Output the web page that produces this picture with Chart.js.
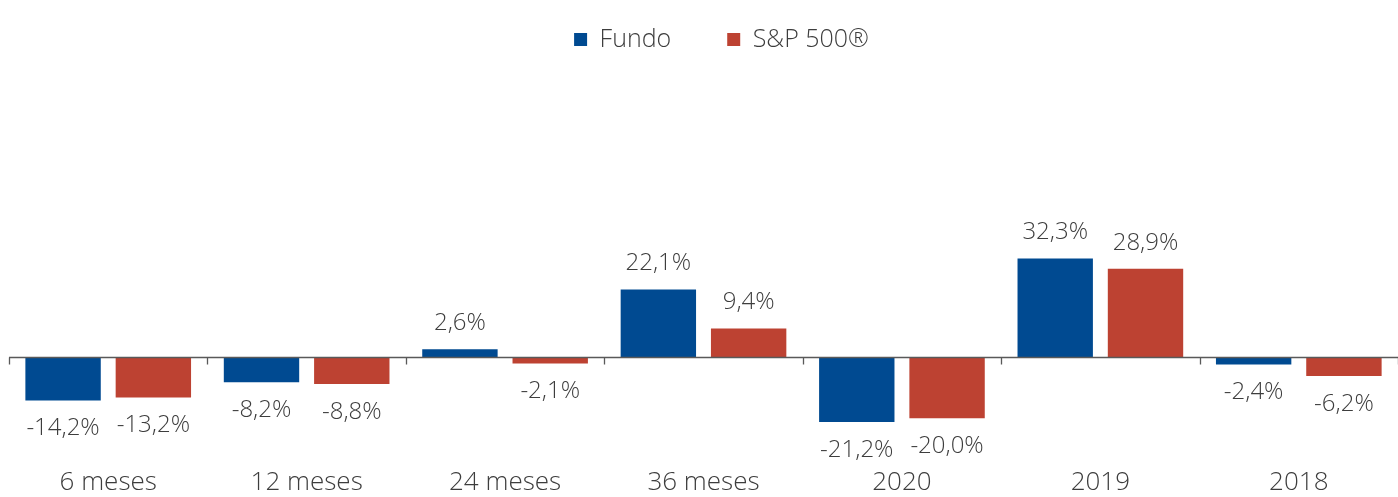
<!DOCTYPE html>
<html>
<head>
<meta charset="utf-8">
<script src="https://cdn.jsdelivr.net/npm/chart.js@4"></script>
<style>
  html, body { margin: 0; padding: 0; background: #fff; overflow: hidden; }
  #wrap { width: 1398px; height: 497px; }
</style>
</head>
<body>
<div id="wrap"><canvas id="chart"></canvas></div>
<script>
const categories = ["6 meses", "12 meses", "24 meses", "36 meses", "2020", "2019", "2018"];
const fundoValues = [-14.2, -8.2, 2.6, 22.1, -21.2, 32.3, -2.4];
const spValues = [-13.2, -8.8, -2.1, 9.4, -20.0, 28.9, -6.2];
const seriesNames = ["Fundo", "S&P 500\u00AE"];

const textColor = "#3d3d3d";
const fontFamily = "'Open Sans', 'Noto Sans', sans-serif";

const fmt = (v) => v.toFixed(1).replace(".", ",") + "%";

// zero line + category boundary ticks, Excel style
const zeroAxis = {
  id: "zeroAxis",
  afterDatasetsDraw(chart) {
    const { ctx, chartArea, scales } = chart;
    const y0 = Math.round(scales.y.getPixelForValue(0)) + 0.5;
    const step = scales.x.getPixelForValue(1) - scales.x.getPixelForValue(0);
    ctx.save();
    ctx.strokeStyle = "#595959";
    ctx.lineWidth = 1.3;
    ctx.beginPath();
    ctx.moveTo(chartArea.left, y0);
    ctx.lineTo(chartArea.right, y0);
    for (let i = 0; i <= categories.length; i++) {
      const x = Math.round(scales.x.getPixelForValue(i) - step / 2) + 0.5;
      ctx.moveTo(x, y0);
      ctx.lineTo(x, y0 + 7);
    }
    ctx.stroke();
    ctx.restore();
  }
};

// value labels above / below each bar
const barLabels = {
  id: "barLabels",
  afterDatasetsDraw(chart) {
    const { ctx } = chart;
    ctx.save();
    ctx.font = "300 24px " + fontFamily;
    ctx.fillStyle = textColor;
    ctx.textAlign = "center";
    ctx.textBaseline = "middle";
    chart.data.datasets.forEach((ds, di) => {
      chart.getDatasetMeta(di).data.forEach((bar, i) => {
        const v = ds.data[i];
        const y = v >= 0 ? bar.y - 26 : bar.y + 28;
        ctx.fillText(fmt(v), bar.x, y);
      });
    });
    ctx.restore();
  }
};

// legend sits a bit right of centre in the original
const legendShift = {
  id: "legendShift",
  afterLayout(chart) {
    chart.legend.left += 15;
    chart.legend.right += 15;
  }
};

new Chart(document.getElementById("chart"), {
  type: "bar",
  data: {
    labels: categories,
    datasets: [
      { label: seriesNames[0], data: fundoValues, backgroundColor: "#004a91" },
      { label: seriesNames[1], data: spValues, backgroundColor: "#bd4232" }
    ]
  },
  options: {
    responsive: true,
    maintainAspectRatio: false,
    animation: false,
    datasets: { bar: { categoryPercentage: 0.91, barPercentage: 0.835 } },
    layout: { padding: { left: 9, right: -6, top: -29, bottom: -19 } },
    plugins: {
      legend: {
        position: "top",
        labels: {
          color: textColor,
          font: { family: fontFamily, size: 25, weight: 300 },
          boxWidth: 13,
          boxHeight: 13,
          padding: 56
        }
      },
      tooltip: { enabled: false }
    },
    scales: {
      x: {
        grid: { display: false, drawTicks: false },
        border: { display: false },
        ticks: {
          color: textColor,
          font: { family: fontFamily, size: 26, weight: 300 },
          padding: 18
        }
      },
      y: {
        display: false,
        min: -30,
        max: 96.6
      }
    }
  },
  plugins: [zeroAxis, barLabels, legendShift]
});
</script>
</body>
</html>
